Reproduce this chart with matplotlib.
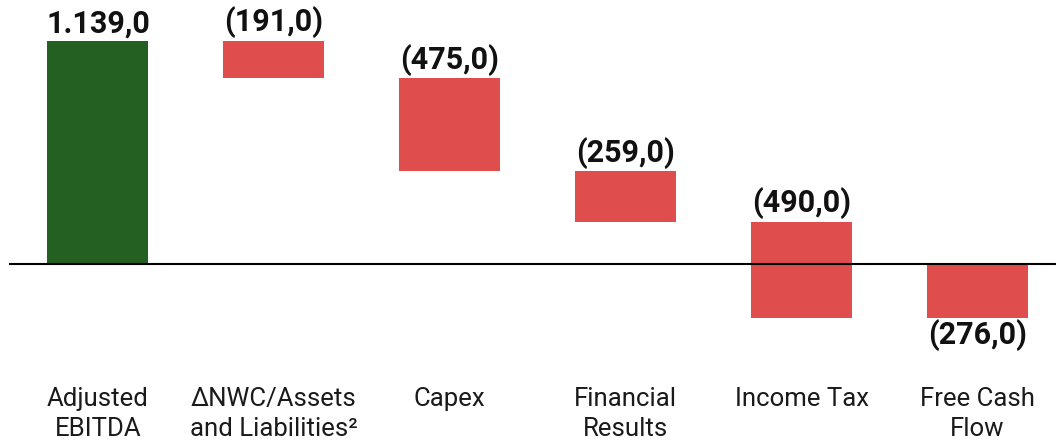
import matplotlib.pyplot as plt

plt.rcParams["font.family"] = ["Roboto", "DejaVu Sans"]

categories = ["Adjusted\nEBITDA", "ΔNWC/Assets\nand Liabilities²", "Capex",
              "Financial\nResults", "Income Tax", "Free Cash\nFlow"]
values = [1139.0, -191.0, -475.0, -259.0, -490.0, -276.0]
labels = ["1.139,0", "(191,0)", "(475,0)", "(259,0)", "(490,0)", "(276,0)"]

green = "#236021"
red = "#E04D4D"


def fmt_steps(vals):
    # first and last are totals, the rest are steps
    bottoms, heights = [], []
    running = 0.0
    for i, v in enumerate(vals):
        if i == 0:
            bottoms.append(0.0)
            heights.append(v)
            running = v
        elif i == len(vals) - 1:
            bottoms.append(0.0)
            heights.append(v)
        else:
            bottoms.append(running)
            heights.append(v)
            running += v
    return bottoms, heights


bottoms, heights = fmt_steps(values)
colors = [green if v > 0 else red for v in values]
x = list(range(len(categories)))

fig = plt.figure(figsize=(10.56, 4.41), dpi=100)
ax = fig.add_axes([0, 0, 1, 1])
ax.bar(x, heights, bottom=bottoms, width=0.574, color=colors)
ax.set_xlim(-0.557, 5.446)
ax.set_ylim(-904, 1348.5)
ax.axhline(0, xmin=0.0095, xmax=1, color="black", lw=1.5)
ax.axis("off")

for i, (b, h, lab) in enumerate(zip(bottoms, heights, labels)):
    top = max(b, b + h)
    low = min(b, b + h)
    if i == len(values) - 1:
        ax.annotate(lab, (i, low), xytext=(0, -1), textcoords="offset points",
                    ha="center", va="top", fontsize=22, fontweight="bold", color="#111111")
    else:
        ax.annotate(lab, (i, top), xytext=(0, 2), textcoords="offset points",
                    ha="center", va="bottom", fontsize=22, fontweight="bold", color="#111111")

for i, cat in enumerate(categories):
    ax.text(i, -628, cat, ha="center", va="top", fontsize=18.5, color="#1a1a1a",
            linespacing=1.32)

fig.savefig("out.png", dpi=100)
